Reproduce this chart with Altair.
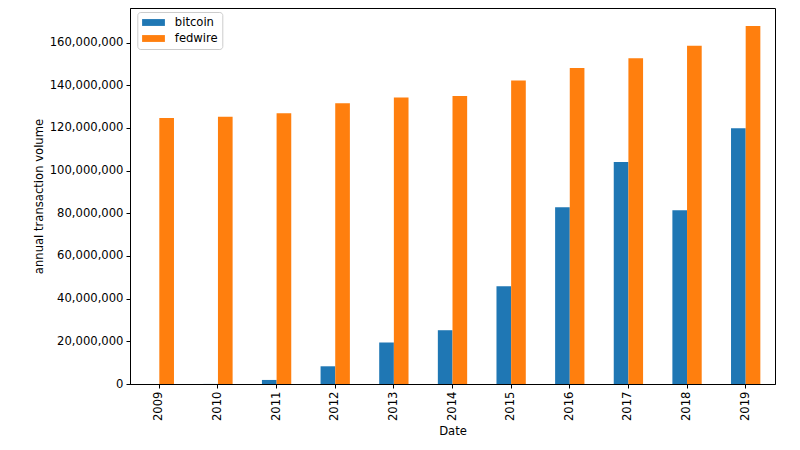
import altair as alt
import pandas as pd

years = ["2009", "2010", "2011", "2012", "2013", "2014", "2015", "2016", "2017", "2018", "2019"]
bitcoin = [0, 30000, 1900000, 8300000, 19500000, 25200000, 45800000, 82800000, 104000000, 81400000, 119900000]
fedwire = [124700000, 125200000, 126900000, 131600000, 134300000, 135000000, 142200000, 148100000, 152700000, 158500000, 167800000]
series = ["bitcoin", "fedwire"]
colors = ["#1f77b4", "#ff7f0e"]
y_ticks = [0, 20000000, 40000000, 60000000, 80000000, 100000000, 120000000, 140000000, 160000000]

rows = []
for i, yr in enumerate(years):
    rows.append({"Date": yr, "series": "bitcoin", "value": bitcoin[i]})
    rows.append({"Date": yr, "series": "fedwire", "value": fedwire[i]})
df = pd.DataFrame(rows)

ymax = max(fedwire) * 1.05
FS = 11.6

chart = alt.Chart(df).mark_bar().encode(
    x=alt.X("Date:N", sort=years,
            scale=alt.Scale(paddingInner=0.5, paddingOuter=0.25),
            axis=alt.Axis(title="Date", labelAngle=270, labelFontSize=FS, titleFontSize=FS,
                          tickSize=4, labelPadding=3, titlePadding=5,
                          domainColor="black", tickColor="black", labelColor="black",
                          titleColor="black", titleFontWeight="normal",
                          labelFont="DejaVu Sans", titleFont="DejaVu Sans")),
    xOffset=alt.XOffset("series:N", sort=series),
    y=alt.Y("value:Q", scale=alt.Scale(domain=[0, ymax], nice=False, zero=True),
            axis=alt.Axis(title="annual transaction volume", values=y_ticks, format=",d",
                          grid=False, labelFontSize=FS, titleFontSize=FS, tickSize=4,
                          labelPadding=3, titlePadding=5,
                          domainColor="black", tickColor="black", labelColor="black",
                          titleColor="black", titleFontWeight="normal",
                          labelFont="DejaVu Sans", titleFont="DejaVu Sans")),
    color=alt.Color("series:N", sort=series,
                    scale=alt.Scale(domain=series, range=colors),
                    legend=alt.Legend(title=None, orient="none", legendX=7.3, legendY=4,
                                      fillColor="white", strokeColor="#cccccc",
                                      cornerRadius=3, padding=4.5,
                                      symbolType="M-1,-0.6L3,-0.6L3,0.6L-1,0.6Z",
                                      symbolSize=130, symbolStrokeWidth=0,
                                      labelFontSize=FS, labelColor="black",
                                      labelFont="DejaVu Sans",
                                      rowPadding=4, labelOffset=21)),
).properties(
    width=645, height=376,
    autosize=alt.AutoSizeParams(type="none"),
    padding={"left": 122, "top": 0, "right": 17, "bottom": 58},
).configure_view(
    stroke="black", strokeWidth=1
)

chart.save("out.html", embed_options={"renderer": "svg", "actions": False})
